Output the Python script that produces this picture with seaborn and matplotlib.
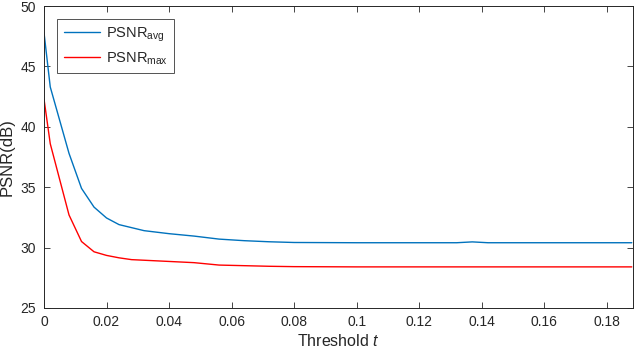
import numpy as np
import pandas as pd
import seaborn as sns
import matplotlib
matplotlib.use("Agg")
import matplotlib.pyplot as plt

# values
threshold = [0, 0.002, 0.008, 0.012, 0.016, 0.02, 0.024, 0.028, 0.032, 0.04,
             0.048, 0.056, 0.064, 0.072, 0.08, 0.1, 0.12, 0.132, 0.137, 0.142,
             0.16, 0.188]
psnr_avg = [47.8, 43.3, 37.8, 34.9, 33.35, 32.45, 31.9, 31.65, 31.4, 31.15,
            30.95, 30.7, 30.57, 30.48, 30.42, 30.4, 30.4, 30.4, 30.47, 30.4,
            30.4, 30.4]
psnr_max = [42.3, 38.6, 32.7, 30.5, 29.65, 29.35, 29.15, 29.0, 28.95, 28.85,
            28.75, 28.55, 28.5, 28.45, 28.42, 28.4, 28.4, 28.4, 28.4, 28.4,
            28.4, 28.4]
series_names = [r'PSNR$_{\mathrm{avg}}$', r'PSNR$_{\mathrm{max}}$']
colors = ['#0072BD', '#FF0000']

df = pd.concat([
    pd.DataFrame({'t': threshold, 'psnr': psnr_avg, 'series': series_names[0]}),
    pd.DataFrame({'t': threshold, 'psnr': psnr_max, 'series': series_names[1]}),
])

sns.set_style('ticks')
plt.rcParams['font.family'] = ['Liberation Sans', 'DejaVu Sans']
plt.rcParams['mathtext.fontset'] = 'custom'
plt.rcParams['mathtext.rm'] = 'Liberation Sans'
plt.rcParams['mathtext.it'] = 'Liberation Sans:italic'

fig = plt.figure(figsize=(6.34, 3.56), dpi=100)
ax = fig.add_axes([0.0694, 0.135, 0.9286, 0.848])

sns.lineplot(data=df, x='t', y='psnr', hue='series', palette=colors,
             linewidth=1.0, ax=ax, estimator=None, sort=False)

ax.set_xlim(0, 0.1883)
ax.set_ylim(25, 50)
ax.set_xticks(np.arange(0, 0.181, 0.02))
ax.set_xticklabels(['0', '0.02', '0.04', '0.06', '0.08', '0.1', '0.12',
                    '0.14', '0.16', '0.18'])
ax.set_yticks([25, 30, 35, 40, 45, 50])
ax.tick_params(direction='in', length=4, width=0.6, colors='#262626',
               labelsize=10, top=True, right=True)
ax.tick_params(axis='x', pad=5)
ax.tick_params(axis='y', pad=6)
for s in ax.spines.values():
    s.set_visible(True)
    s.set_color('#262626')
    s.set_linewidth(0.7)

ax.set_xlabel('Threshold $t$', fontsize=11.5, color='#262626', labelpad=3)
ax.set_ylabel('PSNR(dB)', fontsize=12, color='#262626', labelpad=4)

leg = ax.legend(loc='upper left', bbox_to_anchor=(0.022, 0.957),
                borderaxespad=0, fontsize=10.5,
                frameon=True, fancybox=False, edgecolor='#262626',
                handlelength=2.5, handletextpad=0.4, borderpad=0.45,
                labelspacing=0.45)
leg.get_frame().set_linewidth(0.7)

fig.savefig('out.png', dpi=100)
